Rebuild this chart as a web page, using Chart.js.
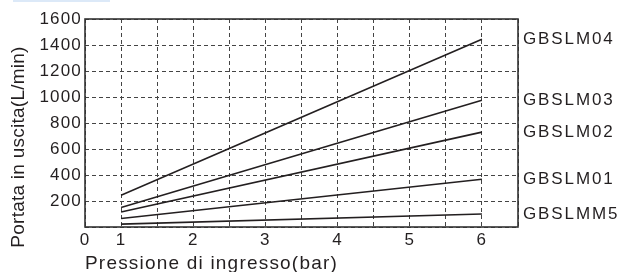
<!DOCTYPE html>
<html>
<head>
<meta charset="utf-8">
<script src="https://cdn.jsdelivr.net/npm/chart.js@4/dist/chart.umd.min.js"></script>
<style>
  body { margin: 0; background: #fff; }
  #wrap { position: relative; width: 621px; height: 272px; }
  #strip { position: absolute; left: 13px; top: 0; width: 97px; height: 2px; background: #dce9f8; }
</style>
</head>
<body>
<div id="wrap">
  <canvas id="flowChart" width="621" height="272"></canvas>
  <div id="strip"></div>
</div>
<script>
// pressione di ingresso (bar)
var pressure = [1, 6];

// portata in uscita (L/min) per modello
var gbslm04 = [245, 1445];
var gbslm03 = [150, 975];
var gbslm02 = [115, 730];
var gbslm01 = [65, 367];
var gbslmm5 = [22, 100];

var seriesNames = ['GBSLM04', 'GBSLM03', 'GBSLM02', 'GBSLM01', 'GBSLMM5'];
var seriesValues = [gbslm04, gbslm03, gbslm02, gbslm01, gbslmm5];

var xTickLabels = ['0', '1', '2', '3', '4', '5', '6'];
var yTickLabels = ['200', '400', '600', '800', '1000', '1200', '1400', '1600'];

var ink = '#231f20';
var fontFamily = '"Liberation Sans", Arial, sans-serif';

function toPoints(values) {
    var pts = [];
    for (var i = 0; i < pressure.length; i++) {
        pts.push({ x: pressure[i], y: values[i] });
    }
    return pts;
}

var datasets = [];
for (var i = 0; i < seriesNames.length; i++) {
    datasets.push({
        label: seriesNames[i],
        data: toPoints(seriesValues[i]),
        borderColor: ink,
        borderWidth: 1.6,
        pointRadius: 0,
        fill: false
    });
}

// spacing between letters, like the original artwork
function setSpacing(chart) {
    chart.ctx.letterSpacing = '1.2px';
}

var decorPlugin = {
    id: 'decor',
    beforeLayout: setSpacing,
    beforeDraw: setSpacing,
    beforeDatasetsDraw: function (chart) {
        var a = chart.chartArea;
        var ctx = chart.ctx;
        ctx.save();
        ctx.strokeStyle = '#333';
        ctx.lineWidth = 1.6;
        ctx.setLineDash([]);
        ctx.strokeRect(a.left, a.top, a.right - a.left, a.bottom - a.top);
        ctx.restore();
    },
    afterDraw: function (chart) {
        var ctx = chart.ctx;
        var a = chart.chartArea;
        var y = chart.scales.y;
        ctx.save();
        ctx.letterSpacing = '1.9px';
        ctx.fillStyle = ink;
        ctx.font = '17px ' + fontFamily;
        ctx.textAlign = 'left';
        ctx.textBaseline = 'middle';
        for (var i = 0; i < seriesNames.length; i++) {
            var vals = seriesValues[i];
            ctx.fillText(seriesNames[i], a.right + 5, y.getPixelForValue(vals[vals.length - 1]));
        }
        // y axis title
        ctx.letterSpacing = '0.25px';
        ctx.font = '19px ' + fontFamily;
        ctx.translate(18.5, 147);
        ctx.rotate(-Math.PI / 2);
        ctx.textAlign = 'center';
        ctx.fillText('Portata in uscita(L/min)', 0, 0);
        ctx.restore();
    }
};

var ctx = document.getElementById('flowChart').getContext('2d');
var chart = new Chart(ctx, {
    type: 'line',
    data: { datasets: datasets },
    options: {
        responsive: false,
        animation: false,
        layout: { padding: { left: 0, top: 19, right: 103, bottom: 0 } },
        plugins: {
            legend: { display: false },
            tooltip: { enabled: false }
        },
        scales: {
            x: {
                type: 'linear',
                min: 0.5,
                max: 6.5,
                afterFit: function (scale) { scale.height = 45; },
                ticks: {
                    stepSize: 0.5,
                    autoSkip: false,
                    maxRotation: 0,
                    padding: 3,
                    color: ink,
                    font: { family: fontFamily, size: 17 },
                    callback: function (v) {
                        if (v === 0.5) return xTickLabels[0];
                        if (Number.isInteger(v)) return xTickLabels[v];
                        return '';
                    }
                },
                grid: { color: '#444', lineWidth: 1, drawTicks: false },
                border: { display: false, dash: [4, 3] },
                title: {
                    display: true,
                    text: 'Pressione di ingresso(bar)',
                    align: 'start',
                    color: ink,
                    font: { family: fontFamily, size: 19 },
                    padding: { top: 0, bottom: -3 }
                }
            },
            y: {
                min: 0,
                max: 1600,
                afterFit: function (scale) { scale.width = 85; },
                ticks: {
                    stepSize: 200,
                    padding: 3,
                    color: ink,
                    font: { family: fontFamily, size: 17 },
                    callback: function (v) {
                        var idx = v / 200 - 1;
                        return idx >= 0 ? yTickLabels[idx] : '';
                    }
                },
                grid: { color: '#444', lineWidth: 1, drawTicks: false },
                border: { display: false, dash: [4, 3] }
            }
        }
    },
    plugins: [decorPlugin]
});
</script>
</body>
</html>
